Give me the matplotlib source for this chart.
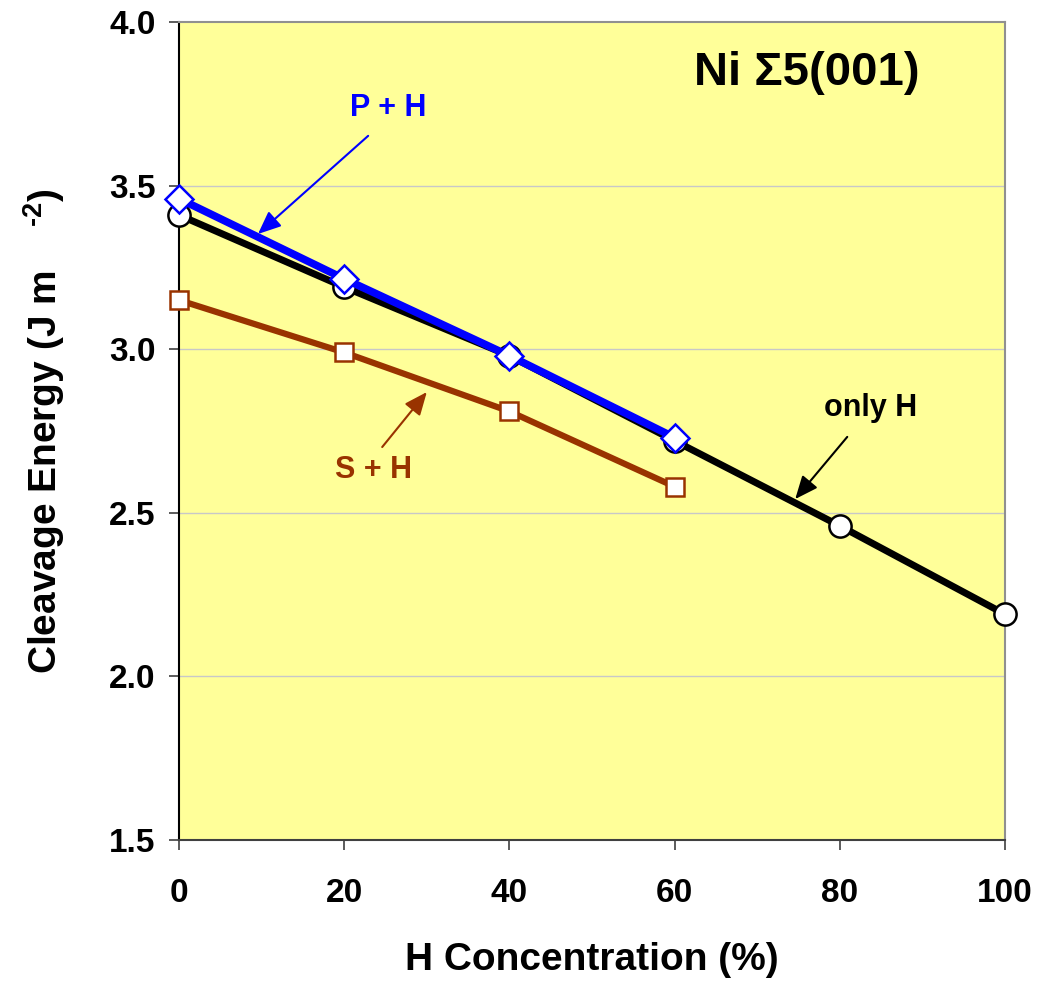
import matplotlib
matplotlib.use("Agg")
import matplotlib.pyplot as plt

plt.rcParams['font.family'] = ['Liberation Sans', 'DejaVu Sans']
plt.rcParams['font.weight'] = 'bold'
plt.rcParams['mathtext.fontset'] = 'custom'
plt.rcParams['mathtext.bf'] = 'Liberation Sans:bold'
plt.rcParams['mathtext.rm'] = 'Liberation Sans:bold'

# cleavage energy vs H concentration
h_only_x = [0, 20, 40, 60, 80, 100]
h_only_y = [3.41, 3.19, 2.98, 2.72, 2.46, 2.19]

s_h_x = [0, 20, 40, 60]
s_h_y = [3.15, 2.99, 2.81, 2.58]

p_h_x = [0, 20, 40, 60]
p_h_y = [3.46, 3.215, 2.98, 2.73]

xticks = [0, 20, 40, 60, 80, 100]
yticks = [1.5, 2.0, 2.5, 3.0, 3.5, 4.0]

fig = plt.figure(figsize=(10.48, 9.81), dpi=100)
ax = fig.add_axes([0.1708, 0.1437, 0.7882, 0.8339])
ax.set_facecolor('#FFFF99')

for y in yticks[1:-1]:
    ax.axhline(y, color='#C8C8C8', lw=1.0, zorder=1)

ax.plot(h_only_x, h_only_y, color='black', lw=5, marker='o', ms=16,
        mfc='white', mec='black', mew=1.8, zorder=3, clip_on=False)
ax.plot(s_h_x, s_h_y, color='#993300', lw=4.5, marker='s', ms=13,
        mfc='white', mec='#993300', mew=1.8, zorder=4, clip_on=False)
ax.plot(p_h_x, p_h_y, color='#0000FF', lw=5.5, marker='D', ms=14,
        mfc='white', mec='#0000FF', mew=1.8, zorder=5, clip_on=False)

ax.set_xlim(0, 100)
ax.set_ylim(1.5, 4.0)
ax.set_xticks(xticks)
ax.set_yticks(yticks)
ax.set_yticklabels([f"{v:.1f}" for v in yticks])
ax.tick_params(axis='both', direction='out', length=7, width=1.2,
               labelsize=24, color='#404040')
ax.tick_params(axis='x', pad=20)
ax.tick_params(axis='y', pad=10)

ax.spines['left'].set_color('black')
ax.spines['bottom'].set_color('#404040')
ax.spines['top'].set_color('#909090')
ax.spines['right'].set_color('#909090')
for s in ax.spines.values():
    s.set_linewidth(1.5)

ax.set_xlabel('H Concentration (%)', fontsize=28, fontweight='bold', labelpad=24)
ax.set_ylabel(r'Cleavage Energy (J m    $^{\text{-2}}$)', fontsize=28,
              fontweight='bold', labelpad=30)

ax.text(76.0, 3.844, 'Ni Σ5(001)', fontsize=34, fontweight='bold',
        ha='center', va='center')

ax.text(25.3, 3.737, 'P + H', fontsize=22, fontweight='bold', color='#0000FF',
        ha='center', va='center')
ax.text(23.5, 2.631, 'S + H', fontsize=22, fontweight='bold', color='#993300',
        ha='center', va='center')
ax.text(83.7, 2.820, 'only H', fontsize=22, fontweight='bold', color='black',
        ha='center', va='center')

arrow_style = '-|>,head_length=0.7,head_width=0.3'
ax.annotate('', xy=(9.56, 3.352), xytext=(22.9, 3.652),
            arrowprops=dict(arrowstyle=arrow_style, color='#0000FF', lw=1.5,
                            mutation_scale=20, shrinkA=0, shrinkB=0), zorder=6)
ax.annotate('', xy=(30.0, 2.869), xytext=(24.6, 2.701),
            arrowprops=dict(arrowstyle=arrow_style, color='#993300', lw=1.5,
                            mutation_scale=20, shrinkA=0, shrinkB=0), zorder=6)
ax.annotate('', xy=(74.6, 2.542), xytext=(80.9, 2.732),
            arrowprops=dict(arrowstyle=arrow_style, color='black', lw=1.5,
                            mutation_scale=20, shrinkA=0, shrinkB=0), zorder=6)

fig.savefig('out.png', dpi=100)
